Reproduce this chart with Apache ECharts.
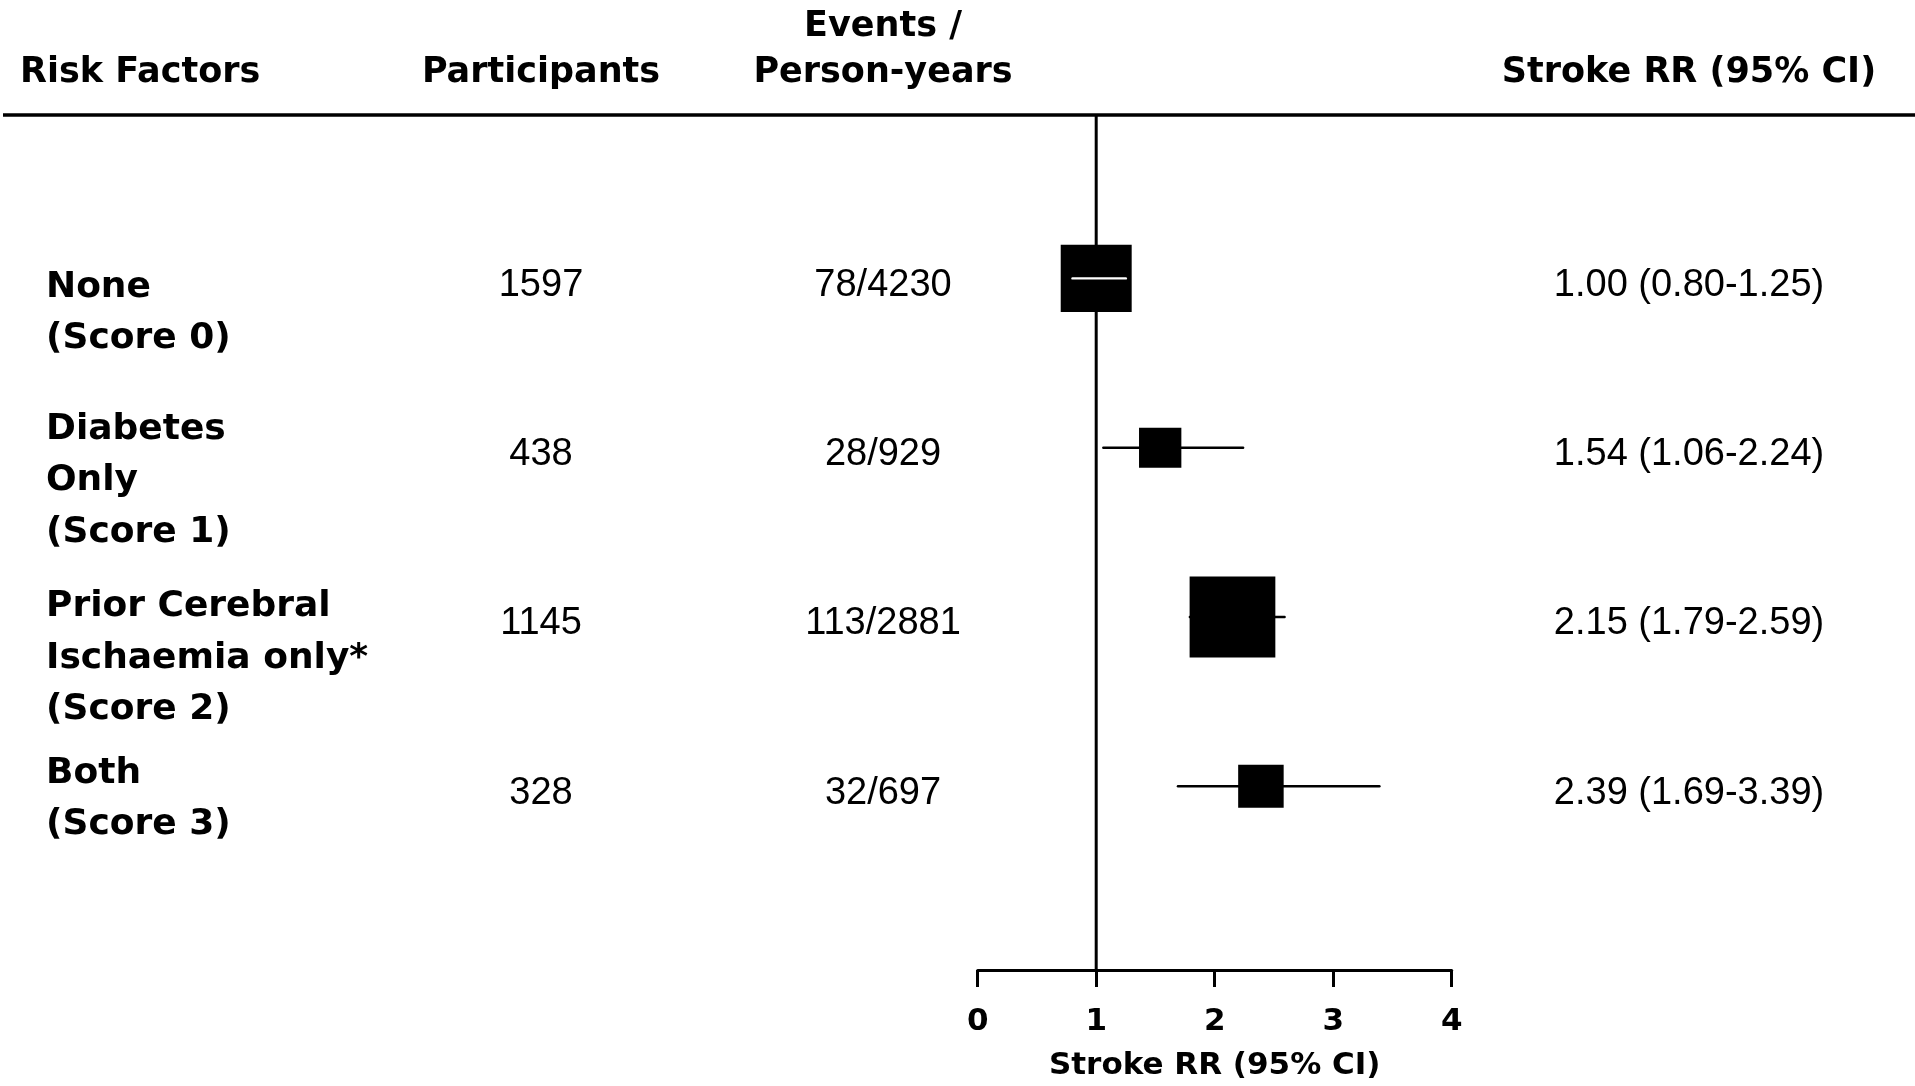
<!DOCTYPE html>
<html><head><meta charset="utf-8">
<script src="https://cdn.jsdelivr.net/npm/echarts@6/dist/echarts.min.js"></script>
<style>html,body{margin:0;padding:0;background:#fff}#c{width:1915px;height:1086px}</style>
</head><body><div id="c"></div>
<script>
// ---------------- data ----------------
const riskFactors = ['None\n(Score 0)', 'Diabetes\nOnly\n(Score 1)', 'Prior Cerebral\nIschaemia only*\n(Score 2)', 'Both\n(Score 3)'];
const participants = [1597, 438, 1145, 328];
const eventsPY = ['78/4230', '28/929', '113/2881', '32/697'];
const rr = [1.00, 1.54, 2.15, 2.39];
const ciLow = [0.80, 1.06, 1.79, 1.69];
const ciHigh = [1.25, 2.24, 2.59, 3.39];
const xTickLabels = ['0', '1', '2', '3', '4'];
const refValue = 1;
const headerLabels = ['Risk Factors', 'Participants', 'Events /\nPerson-years', 'Stroke RR (95% CI)'];
const axisTitle = 'Stroke RR (95% CI)';

// ---------------- layout / style ----------------
const BOLD = '"DejaVu Sans", "Liberation Sans", sans-serif';
const REG = '"Liberation Sans", Arial, sans-serif';
const COL_X = {label: 46, part: 541, events: 883, rr: 1689};
const LABEL_DY = [9, -18, -10, -13];   // first-line offset from row centre (px)
const LINE_H = 51.3;
const BOX_KX = 8.08, BOX_KY = 7.63;   // box side scale (px per 1/SE)
const HDR_Y = 72.5;
const HDR_LH = 46;

const rows = rr.map((v, i) => [v, i + 1, ciLow[i], ciHigh[i]]);
const rrText = rr.map((v, i) => v.toFixed(2) + ' (' + ciLow[i].toFixed(2) + '-' + ciHigh[i].toFixed(2) + ')');

const chart = echarts.init(document.getElementById('c'), null, {renderer: 'canvas'});

const hdrFont = 'bold 35px ' + BOLD;
const option = {
  backgroundColor: '#ffffff',
  animation: false,
  grid: {left: 977.7, right: 1915 - 1451.7, top: 115, bottom: 1086 - 970},
  xAxis: {
    type: 'value', min: 0, max: 4, interval: 1,
    axisLine: {show: true, onZero: false, lineStyle: {color: '#000', width: 3}},
    axisTick: {show: true, length: 17, lineStyle: {color: '#000', width: 3}},
    axisLabel: {margin: 36, color: '#000', fontFamily: BOLD, fontWeight: 'bold', fontSize: 31,
      formatter: v => xTickLabels[Math.round(v)]},
    splitLine: {show: false},
    name: axisTitle, nameLocation: 'middle', nameGap: 80,
    nameTextStyle: {color: '#000', fontFamily: BOLD, fontWeight: 'bold', fontSize: 31}
  },
  yAxis: {type: 'value', inverse: true, min: 0.035, max: 5.085, show: false},
  graphic: [
    {type: 'line', shape: {x1: 3, y1: 115, x2: 1915, y2: 115}, style: {stroke: '#000', lineWidth: 3.4}, z: 10},
    {type: 'text', x: 20, y: HDR_Y, style: {text: headerLabels[0], font: hdrFont, fill: '#000', align: 'left', verticalAlign: 'middle'}},
    {type: 'text', x: 541, y: HDR_Y, style: {text: headerLabels[1], font: hdrFont, fill: '#000', align: 'center', verticalAlign: 'middle'}},
    {type: 'text', x: 883, y: HDR_Y - HDR_LH * 1.5, style: {text: headerLabels[2], font: hdrFont, fill: '#000', align: 'center', verticalAlign: 'top', lineHeight: HDR_LH}},
    {type: 'text', x: 1689, y: HDR_Y, style: {text: headerLabels[3], font: hdrFont, fill: '#000', align: 'center', verticalAlign: 'middle'}}
  ],
  series: [
    { // reference line at RR = 1
      type: 'custom', z: 1, clip: false, silent: true,
      data: [[refValue]],
      renderItem: function (params, api) {
        const cs = params.coordSys;
        const x = api.coord([api.value(0), 1])[0];
        return {type: 'line', shape: {x1: x, y1: cs.y, x2: x, y2: cs.y + cs.height},
          style: {stroke: '#000', lineWidth: 3}};
      }
    },
    { // boxes and CIs
      type: 'custom', z: 3, clip: false, silent: true,
      data: rows,
      renderItem: function (params, api) {
        const y = api.coord([0, api.value(1)])[1];
        const xc = api.coord([api.value(0), 0])[0];
        const xl = api.coord([api.value(2), 0])[0];
        const xh = api.coord([api.value(3), 0])[0];
        const se = (Math.log(api.value(3)) - Math.log(api.value(2))) / (2 * 1.96);
        const w = BOX_KX / se, h = BOX_KY / se;
        const children = [
          {type: 'line', shape: {x1: xl, y1: y, x2: xh, y2: y}, style: {stroke: '#000', lineWidth: 2.4, lineCap: 'round'}},
          {type: 'rect', shape: {x: xc - w / 2, y: y - h / 2, width: w, height: h}, style: {fill: '#000'}}
        ];
        if (xl > xc - w / 2 && xh < xc + w / 2) {
          children.push({type: 'line', shape: {x1: xl, y1: y, x2: xh, y2: y}, style: {stroke: '#fff', lineWidth: 2.4, lineCap: 'round'}});
        }
        return {type: 'group', children: children};
      }
    },
    { // table text
      type: 'custom', z: 4, clip: false, silent: true,
      data: rows.map((r, i) => [i, r[1]]),
      renderItem: function (params, api) {
        const i = api.value(0);
        const y = api.coord([0, api.value(1)])[1];
        return {type: 'group', children: [
          {type: 'text', x: COL_X.label, y: y + LABEL_DY[i] - LINE_H / 2,
            style: {text: riskFactors[i], font: 'bold 36px ' + BOLD, fill: '#000', align: 'left', verticalAlign: 'top', lineHeight: LINE_H}},
          {type: 'text', x: COL_X.part, y: y + 7,
            style: {text: String(participants[i]), font: '38px ' + REG, fill: '#000', align: 'center', verticalAlign: 'middle'}},
          {type: 'text', x: COL_X.events, y: y + 7,
            style: {text: eventsPY[i], font: '38px ' + REG, fill: '#000', align: 'center', verticalAlign: 'middle'}},
          {type: 'text', x: COL_X.rr, y: y + 7,
            style: {text: rrText[i], font: '38px ' + REG, fill: '#000', align: 'center', verticalAlign: 'middle'}}
        ]};
      }
    }
  ]
};
chart.setOption(option);
</script>
</body></html>
